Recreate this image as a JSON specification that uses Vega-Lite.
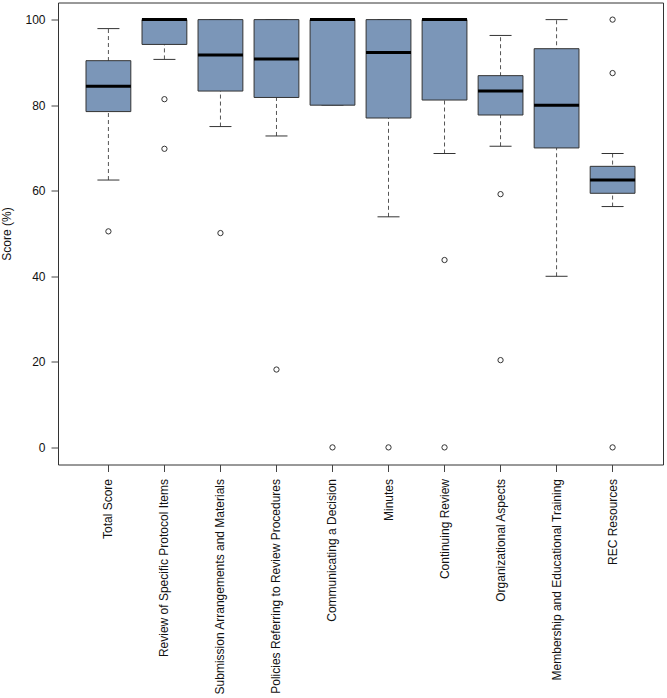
{
  "$schema": "https://vega.github.io/schema/vega-lite/v6.json",
  "autosize": "none",
  "width": 605,
  "height": 462,
  "padding": {"left": 58, "top": 2.5, "right": 4, "bottom": 233.5},
  "background": "white",
  "config": {
    "font": "Liberation Sans",
    "view": {"stroke": "#333", "strokeWidth": 1},
    "axis": {"labelFont": "Liberation Sans", "titleFont": "Liberation Sans", "labelColor": "#111", "titleColor": "#111", "tickColor": "#444", "grid": false, "domain": false}
  },
  "datasets": {
    "stats": [
      {"cat": "Total Score", "lo": 62.5, "q1": 78.5, "med": 84.4, "q3": 90.4, "hi": 97.9},
      {"cat": "Review of Specific Protocol Items", "lo": 90.7, "q1": 94.2, "med": 100, "q3": 100, "hi": 100},
      {"cat": "Submission Arrangements and Materials", "lo": 75.0, "q1": 83.3, "med": 91.7, "q3": 100, "hi": 100},
      {"cat": "Policies Referring to Review Procedures", "lo": 72.8, "q1": 81.8, "med": 90.8, "q3": 100, "hi": 100},
      {"cat": "Communicating a Decision", "lo": 80, "q1": 80, "med": 100, "q3": 100, "hi": 100},
      {"cat": "Minutes", "lo": 53.9, "q1": 77.0, "med": 92.3, "q3": 100, "hi": 100},
      {"cat": "Continuing Review", "lo": 68.7, "q1": 81.2, "med": 100, "q3": 100, "hi": 100},
      {"cat": "Organizational Aspects", "lo": 70.4, "q1": 77.7, "med": 83.3, "q3": 86.9, "hi": 96.3},
      {"cat": "Membership and Educational Training", "lo": 40.0, "q1": 70.0, "med": 80.0, "q3": 93.2, "hi": 100},
      {"cat": "REC Resources", "lo": 56.3, "q1": 59.4, "med": 62.5, "q3": 65.7, "hi": 68.7}
    ],
    "outliers": [
      {"cat": "Total Score", "value": 50.5},
      {"cat": "Review of Specific Protocol Items", "value": 81.4},
      {"cat": "Review of Specific Protocol Items", "value": 69.8},
      {"cat": "Submission Arrangements and Materials", "value": 50.1},
      {"cat": "Policies Referring to Review Procedures", "value": 18.2},
      {"cat": "Communicating a Decision", "value": 0},
      {"cat": "Minutes", "value": 0},
      {"cat": "Continuing Review", "value": 43.8},
      {"cat": "Continuing Review", "value": 0},
      {"cat": "Organizational Aspects", "value": 59.2},
      {"cat": "Organizational Aspects", "value": 20.4},
      {"cat": "REC Resources", "value": 100},
      {"cat": "REC Resources", "value": 87.5},
      {"cat": "REC Resources", "value": 0}
    ]
  },
  "encoding": {
    "x": {
      "field": "cat", "type": "nominal", "sort": null,
      "scale": {"type": "band", "paddingInner": 0, "paddingOuter": 0.4, "domain": ["Total Score", "Review of Specific Protocol Items", "Submission Arrangements and Materials", "Policies Referring to Review Procedures", "Communicating a Decision", "Minutes", "Continuing Review", "Organizational Aspects", "Membership and Educational Training", "REC Resources"]},
      "axis": {"title": null, "labelAngle": 270, "labelFontSize": 12, "tickSize": 7, "labelPadding": 7, "labelLimit": 400, "bandPosition": 0.5}
    }
  },
  "layer": [
    {
      "data": {"name": "stats"},
      "mark": {"type": "rule", "color": "#555", "strokeDash": [4, 3], "strokeWidth": 1},
      "encoding": {
        "y": {"field": "lo", "type": "quantitative", "scale": {"domain": [-4, 104], "nice": false, "zero": false},
          "axis": {"title": "Score (%)", "values": [0, 20, 40, 60, 80, 100], "labelFontSize": 12, "titleFontSize": 12, "titleFontWeight": "normal", "tickSize": 7, "labelPadding": 6, "titlePadding": 11}},
        "y2": {"field": "hi"}
      }
    },
    {
      "data": {"name": "stats"},
      "mark": {"type": "tick", "color": "#333", "opacity": 1, "size": 22, "thickness": 1, "orient": "horizontal"},
      "encoding": {"y": {"field": "lo", "type": "quantitative"}}
    },
    {
      "data": {"name": "stats"},
      "mark": {"type": "tick", "color": "#333", "opacity": 1, "size": 22, "thickness": 1, "orient": "horizontal"},
      "encoding": {"y": {"field": "hi", "type": "quantitative"}}
    },
    {
      "data": {"name": "stats"},
      "mark": {"type": "bar", "fill": "#7b96b8", "stroke": "#333", "strokeWidth": 1, "opacity": 1, "width": {"band": 0.8}},
      "encoding": {"y": {"field": "q1", "type": "quantitative"}, "y2": {"field": "q3"}}
    },
    {
      "data": {"name": "stats"},
      "mark": {"type": "tick", "color": "#000", "opacity": 1, "size": 45, "thickness": 3, "orient": "horizontal"},
      "encoding": {"y": {"field": "med", "type": "quantitative"}}
    },
    {
      "data": {"name": "outliers"},
      "mark": {"type": "point", "shape": "circle", "filled": false, "stroke": "#333", "strokeWidth": 1, "size": 28, "opacity": 1},
      "encoding": {"y": {"field": "value", "type": "quantitative"}}
    }
  ]
}
